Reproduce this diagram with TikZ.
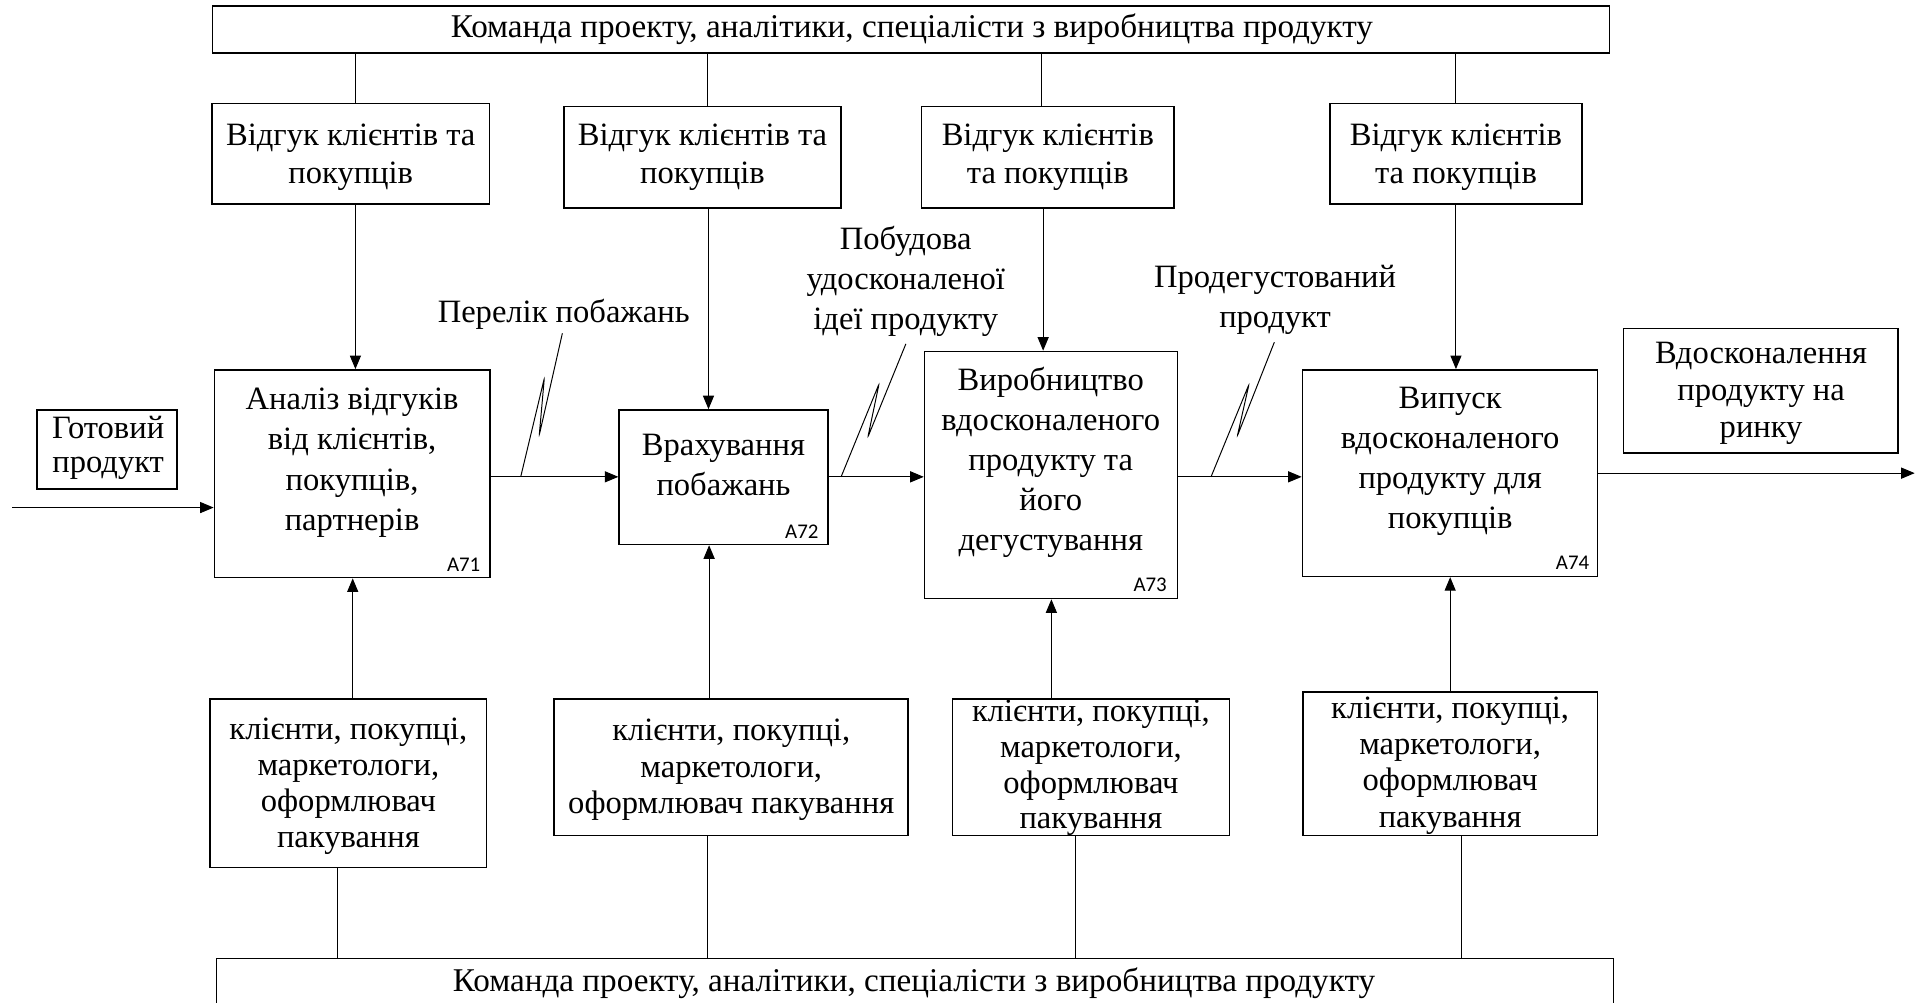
\documentclass[tikz,border=0pt]{standalone}
\usepackage{fontspec}
\setmainfont{Liberation Serif}
\newfontfamily\lblfont{Carlito}
\usetikzlibrary{arrows.meta,fit}
\begin{document}
\begin{tikzpicture}[x=1pt,y=-1pt,
  box/.style={draw, line width=1.3pt, inner sep=0pt},
  conn/.style={line width=0.8pt},
  arr/.style={conn, -{Triangle[length=11pt,width=9pt]}},
  txt/.style={align=center, inner sep=0pt, font=\fontsize{26.5}{#1}\selectfont},
  txt/.default=31,
  bartxt/.style={align=center, inner sep=0pt, font=\fontsize{27}{31}\selectfont},
  lbl/.style={anchor=east, inner sep=0pt, font=\lblfont\fontsize{17}{17}\selectfont}]
\path[use as bounding box] (0,0) rectangle (1568,816);
\clip (0,0) rectangle (1568,816);

% control (top) and mechanism (bottom) bars
\node[box, fit={(173,5) (1309.5,43)}] (top) {};
\node[bartxt] (toptxt) at (742,24) {Команда проекту, аналітики, спеціалісти з виробництва продукту};
\node[box, fit={(176,780) (1313,818)}] (bot) {};
\node[bartxt] (bottxt) at (743.7,800) {Команда проекту, аналітики, спеціалісти з виробництва продукту};

% feedback boxes
\node[box, fit={(172.6,84.1) (398.2,166)}] (f1) {};
\node[txt] (f1t) at (285.4,128) {Відгук клієнтів та\\покупців};
\node[box, fit={(458.8,86.8) (684.4,169.2)}] (f2) {};
\node[txt] (f2t) at (571.6,128) {Відгук клієнтів та\\покупців};
\node[box, fit={(749.8,86.8) (955.4,169.2)}] (f3) {};
\node[txt] (f3t) at (852.6,128) {Відгук клієнтів\\та покупців};
\node[box, fit={(1082.1,84.1) (1287.3,166)}] (f4) {};
\node[txt] (f4t) at (1184.7,128) {Відгук клієнтів\\та покупців};

% process boxes
\node[box, fit={(174.5,301) (398.5,470)}] (a71) {};
\node[txt=33] (a71t) at (286.5,376.6) {Аналіз відгуків\\від клієнтів,\\покупців,\\партнерів};
\node[lbl] (a71l) at (391,459.6) {A71};
\node[box, fit={(503.8,333.6) (673.5,443)}] (a72) {};
\node[txt=32.5] (a72t) at (588.7,378.7) {Врахування\\побажань};
\node[lbl] (a72l) at (666.2,432.8) {A72};
\node[box, fit={(752.3,286) (958,487)}] (a73) {};
\node[txt=32.5] (a73t) at (855,376) {Виробництво\\вдосконаленого\\продукту та\\його\\дегустування};
\node[lbl] (a73l) at (949.6,476) {A73};
\node[box, fit={(1059.8,301) (1300,469)}] (a74) {};
\node[txt=32.7] (a74t) at (1180,375.5) {Випуск\\вдосконаленого\\продукту для\\покупців};
\node[lbl] (a74l) at (1293.3,458.3) {A74};

% input / output boxes
\node[box, fit={(30,333.5) (144,398)}] (inb) {};
\node[txt=28.4] (inbt) at (88,364.4) {Готовий\\продукт};
\node[box, fit={(1321,267.3) (1544.6,368.7)}] (outb) {};
\node[txt=30.4] (outbt) at (1433,320) {Вдосконалення\\продукту на\\ринку};

% mechanism boxes
\node[box, fit={(171,569) (396,706)}] (m1) {};
\node[txt=29.4] (m1t) at (283.5,639.7) {клієнти, покупці,\\маркетологи,\\оформлювач\\пакування};
\node[box, fit={(451,569) (738.8,680)}] (m2) {};
\node[txt=29.9] (m2t) at (595,626.5) {клієнти, покупці,\\маркетологи,\\оформлювач пакування};
\node[box, fit={(775,569) (1000.4,680)}] (m3) {};
\node[txt=29] (m3t) at (887.7,625) {клієнти, покупці,\\маркетологи,\\оформлювач\\пакування};
\node[box, fit={(1060,563.3) (1300,680)}] (m4) {};
\node[txt=29.4] (m4t) at (1180,623) {клієнти, покупці,\\маркетологи,\\оформлювач\\пакування};

% arrow labels
\node[txt] (l1) at (458.7,255.7) {Перелік побажань};
\node[txt=32.5] (l2) at (737,229) {Побудова\\удосконаленої\\ідеї продукту};
\node[txt=32.3] (l3) at (1037.5,244) {Продегустований\\продукт};

% x positions of vertical connectors
\coordinate (c1) at (289.2,0); \coordinate (c2) at (575.4,0);
\coordinate (c3) at (847.1,0); \coordinate (c4) at (1184.3,0);
\coordinate (d1) at (289.2,0); \coordinate (d2) at (576.5,0);
\coordinate (d3) at (848.8,0); \coordinate (d4) at (1184.7,0);
\coordinate (e1) at (287,0);   \coordinate (e2) at (577,0);
\coordinate (e3) at (855.5,0); \coordinate (e4) at (1180,0);
\coordinate (g1) at (274.5,0); \coordinate (g2) at (575.4,0);
\coordinate (g3) at (875.1,0); \coordinate (g4) at (1189.5,0);

\foreach \f/\c in {f1/c1,f2/c2,f3/c3,f4/c4}
  \draw[conn] (top.south -| \c) -- (\f.north -| \c);
\foreach \f/\a/\d in {f1/a71/d1,f2/a72/d2,f3/a73/d3,f4/a74/d4}
  \draw[arr] (\f.south -| \d) -- (\a.north -| \d);
\foreach \m/\a/\e in {m1/a71/e1,m2/a72/e2,m3/a73/e3,m4/a74/e4}
  \draw[arr] (\m.north -| \e) -- (\a.south -| \e);
\foreach \m/\g in {m1/g1,m2/g2,m3/g3,m4/g4}
  \draw[conn] (\m.south -| \g) -- (bot.north -| \g);

% horizontal flow
\coordinate (inS) at (10,413);
\draw[arr] (inS) -- (inS -| a71.west);
\coordinate (hy) at (0,388);
\draw[arr] (a71.east |- hy) -- (a72.west |- hy);
\draw[arr] (a72.east |- hy) -- (a73.west |- hy);
\draw[arr] (a73.east |- hy) -- (a74.west |- hy);
\coordinate (outE) at (1558,385);
\draw[arr] (a74.east |- outE) -- (outE);

% squiggles
\coordinate (s1b) at (423.7,388); \coordinate (s1p) at (442.9,307.8);
\coordinate (s1q) at (438.8,354); \coordinate (s1t) at (457.6,271.2);
\coordinate (s2b) at (684.4,388); \coordinate (s2p) at (715.3,312.3);
\coordinate (s2q) at (706.2,355.6); \coordinate (s2t) at (737.1,279.8);
\coordinate (s3b) at (985.4,388); \coordinate (s3p) at (1016.3,312.7);
\coordinate (s3q) at (1006.8,354.8); \coordinate (s3t) at (1036.9,278.5);
\draw[conn, rounded corners=1.5pt] (s1b) -- (s1p) -- (s1q) -- (s1t);
\draw[conn, rounded corners=1.5pt] (s2b) -- (s2p) -- (s2q) -- (s2t);
\draw[conn, rounded corners=1.5pt] (s3b) -- (s3p) -- (s3q) -- (s3t);
\end{tikzpicture}
\end{document}
